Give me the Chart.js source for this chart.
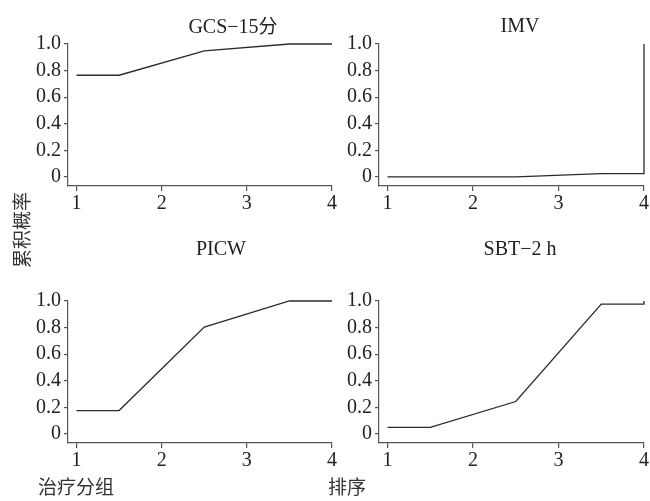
<!DOCTYPE html>
<html>
<head>
<meta charset="utf-8">
<script src="https://cdn.jsdelivr.net/npm/chart.js@4.4.1/dist/chart.umd.min.js"></script>
<style>
  body { margin: 0; background: #fff; }
  #wrap { position: relative; width: 650px; height: 501px; overflow: hidden; }
  canvas { position: absolute; }
  .lbl { position: absolute; font-family: "Liberation Serif", serif; font-size: 20px; color: #222; white-space: nowrap; text-align: center; line-height: 24px; }
  .cjk { font-family: "Noto Sans CJK SC", sans-serif; font-size: 19px; color: #333; }
</style>
</head>
<body>
<div id="wrap">
  <canvas id="c0" width="340" height="230" style="left:0;top:0"></canvas>
  <canvas id="c1" width="330" height="230" style="left:320px;top:0"></canvas>
  <canvas id="c2" width="340" height="260" style="left:0;top:240px"></canvas>
  <canvas id="c3" width="330" height="260" style="left:320px;top:240px"></canvas>

  <div class="lbl" style="left:173px;top:13px;width:120px">GCS−15<span style="font-family:'Noto Sans CJK SC';font-size:19px">分</span></div>
  <div class="lbl" style="left:460px;top:13px;width:120px">IMV</div>
  <div class="lbl" style="left:161px;top:236px;width:120px">PICW</div>
  <div class="lbl" style="left:460px;top:236px;width:120px">SBT−2 h</div>

  <div class="lbl cjk" style="left:-19px;top:218px;width:80px;transform:rotate(-90deg)">累积概率</div>
  <div class="lbl cjk" style="left:38px;top:474px;text-align:left">治疗分组</div>
  <div class="lbl cjk" style="left:328px;top:474px;text-align:left">排序</div>
</div>
<script>
// ranks (x) shared by the panels
const ranks = [1, 1.5, 2.5, 3.5, 4];
const ranksEnd = [1, 1.5, 2.5, 3.5, 4, 4];

// cumulative probability per outcome
const gcsValues = [0.765, 0.765, 0.948, 1.0, 1.0];
const imvValues = [0, 0, 0, 0.025, 0.025, 1.0];
const picwValues = [0.176, 0.176, 0.804, 1.0, 1.0];
const sbtValues = [0.05, 0.05, 0.244, 0.977, 0.977, 1.0];

const xTicks = [1, 2, 3, 4];
const yTicks = [0, 0.2, 0.4, 0.6, 0.8, 1.0];
const yTickLabels = ['0', '0.2', '0.4', '0.6', '0.8', '1.0'];

const panels = [
  { id: 'c0', x: ranks, y: gcsValues, padTop: 44, padRight: 8, yW: 68, xH: 44 },
  { id: 'c1', x: ranksEnd, y: imvValues, padTop: 44, padRight: 6, yW: 59, xH: 44 },
  { id: 'c2', x: ranks, y: picwValues, padTop: 61, padRight: 8, yW: 68, xH: 57 },
  { id: 'c3', x: ranksEnd, y: sbtValues, padTop: 61, padRight: 6, yW: 59, xH: 57 }
];

const tickFont = { family: '"Liberation Serif", serif', size: 20 };
const axisColor = '#555';

panels.forEach(p => {
  const ctx = document.getElementById(p.id).getContext('2d');
  new Chart(ctx, {
    type: 'line',
    data: {
      datasets: [{
        data: p.x.map((v, i) => ({ x: v, y: p.y[i] })),
        borderColor: '#2a2a2a',
        borderWidth: 1.3,
        pointRadius: 0,
        tension: 0,
        fill: false,
        clip: false
      }]
    },
    options: {
      responsive: false,
      animation: false,
      layout: { padding: { top: p.padTop, right: p.padRight, left: 0, bottom: 0 } },
      plugins: {
        legend: { display: false },
        tooltip: { enabled: false }
      },
      scales: {
        x: {
          type: 'linear',
          min: 0.9,
          max: 4,
          afterBuildTicks: s => { s.ticks = xTicks.map(v => ({ value: v })); },
          afterFit: s => { s.height = p.xH; },
          grid: { drawOnChartArea: false, tickLength: 5, color: axisColor, lineWidth: 1.2 },
          border: { color: axisColor, width: 1.2 },
          ticks: { font: tickFont, color: '#222', padding: 1, maxRotation: 0 }
        },
        y: {
          min: -0.068,
          max: 1.0,
          afterBuildTicks: s => { s.ticks = yTicks.map(v => ({ value: v })); },
          afterFit: s => { s.width = p.yW; },
          grid: { drawOnChartArea: false, tickLength: 4, color: axisColor, lineWidth: 1.2 },
          border: { color: axisColor, width: 1.2 },
          ticks: {
            font: tickFont,
            color: '#222',
            padding: 3,
            callback: v => yTickLabels[yTicks.findIndex(t => Math.abs(t - v) < 1e-6)]
          }
        }
      }
    }
  });
});
</script>
</body>
</html>
